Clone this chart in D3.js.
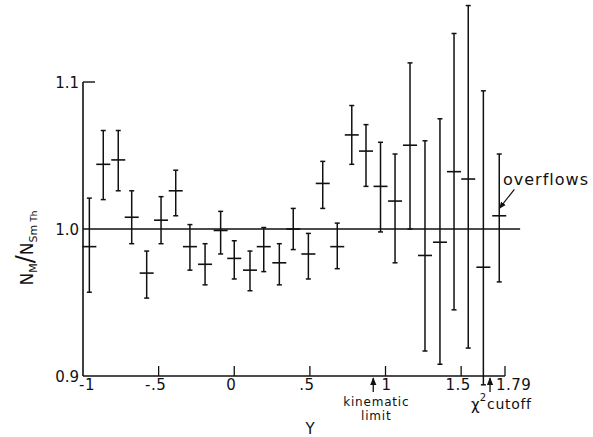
<html>
<head>
  <script src="https://d3js.org/d3.v7.min.js"></script>
  <style>
    body { margin: 0; background: #fff; }
    text { font-family: "DejaVu Sans", sans-serif; fill: #111; }
  </style>
</head>
<body>
<script>
// bin centres in Y (rapidity) and the ratio N_M / N_Sm Th with its error bar
var binY = [-0.958, -0.866, -0.767, -0.678, -0.579, -0.484, -0.387, -0.293, -0.193, -0.090,
            0.000, 0.104, 0.195, 0.298, 0.390, 0.490, 0.585, 0.681, 0.777, 0.871,
            0.967, 1.063, 1.162, 1.261, 1.360, 1.453, 1.547, 1.647, 1.752];
var ratio = [0.988, 1.044, 1.047, 1.008, 0.970, 1.006, 1.026, 0.988, 0.976, 0.999,
             0.980, 0.972, 0.988, 0.977, 1.000, 0.983, 1.031, 0.988, 1.064, 1.053,
             1.029, 1.019, 1.057, 0.982, 0.991, 1.039, 1.034, 0.974, 1.009];
var errHi = [1.021, 1.067, 1.067, 1.026, 0.985, 1.022, 1.040, 1.003, 0.990, 1.012,
             0.992, 0.985, 1.001, 0.990, 1.014, 0.997, 1.046, 1.004, 1.084, 1.071,
             1.059, 1.051, 1.113, 1.060, 1.075, 1.133, 1.152, 1.094, 1.051];
var errLo = [0.957, 1.020, 1.026, 0.990, 0.953, 0.990, 1.009, 0.972, 0.962, 0.983,
             0.966, 0.958, 0.971, 0.962, 0.986, 0.966, 1.014, 0.973, 1.044, 1.029,
             0.998, 0.977, 1.000, 0.917, 0.908, 0.945, 0.919, 0.894, 0.964];

var xTicks = [-1, -0.5, 0, 0.5, 1, 1.5, 1.79];
var xTickLabels = ["-1", "-.5", "0", ".5", "1", "1.5", "1.79"];
var yTicks = [0.9, 1.0, 1.1];
var yTickLabels = ["0.9", "1.0", "1.1"];

var refValue = 1.0, refLineEnd = 1.89;
var kinematicLimit = 0.919, chi2Cutoff = 1.691;
var overflowArrow = [[1.852, 1.027], [1.753, 1.014]];

var W = 593, H = 437;
var svg = d3.select("body").append("svg").attr("width", W).attr("height", H);

var x = d3.scaleLinear().domain([-1, 1.79]).range([83, 505]);
var y = d3.scaleLinear().domain([0.9, 1.1]).range([376, 82]);

svg.append("defs").append("marker")
    .attr("id", "ah").attr("viewBox", "0 0 10 10")
    .attr("refX", 9).attr("refY", 5)
    .attr("markerWidth", 6).attr("markerHeight", 6)
    .attr("orient", "auto")
  .append("path").attr("d", "M0,1L10,5L0,9z").attr("fill", "#111");

var ink = "#111";

// axes
svg.append("line").attr("x1", x(-1)).attr("x2", x(-1)).attr("y1", y(1.1)).attr("y2", y(0.9))
    .attr("stroke", ink).attr("stroke-width", 1.6);
svg.append("line").attr("x1", x(-1)).attr("x2", x(1.79)).attr("y1", y(0.9)).attr("y2", y(0.9))
    .attr("stroke", ink).attr("stroke-width", 1.6);
svg.append("line").attr("x1", x(-1)).attr("x2", x(-1) + 12).attr("y1", y(1.1)).attr("y2", y(1.1))
    .attr("stroke", ink).attr("stroke-width", 1.4);

// x ticks point up into the plot
svg.selectAll(".xt").data(xTicks.slice(1)).enter().append("line")
    .attr("x1", d => x(d)).attr("x2", d => x(d))
    .attr("y1", y(0.9)).attr("y2", y(0.9) - 10)
    .attr("stroke", ink).attr("stroke-width", 1.3);

svg.selectAll(".xl").data(xTicks).enter().append("text")
    .attr("x", (d, i) => i === 0 ? x(d) + 4 : (i === 4 ? x(d) + 1 : (i === 6 ? x(d) - 9 : x(d) - 3)))
    .attr("y", 390)
    .attr("text-anchor", (d, i) => i === 6 ? "start" : "middle")
    .style("font-size", "15px")
    .style("letter-spacing", "0.5px")
    .text((d, i) => xTickLabels[i]);

svg.selectAll(".yl").data(yTicks).enter().append("text")
    .attr("x", 79).attr("y", d => y(d) + 6)
    .attr("text-anchor", "end")
    .style("font-size", "15px")
    .text((d, i) => yTickLabels[i]);

// reference line at 1.0
svg.append("line").attr("x1", x(-1)).attr("x2", x(refLineEnd))
    .attr("y1", y(refValue)).attr("y2", y(refValue))
    .attr("stroke", ink).attr("stroke-width", 1.6);

// error bars
var pts = binY.map((b, i) => ({b: b, v: ratio[i], hi: errHi[i], lo: errLo[i]}));
var g = svg.append("g").attr("stroke", ink);
g.selectAll(".eb").data(pts).enter().append("line")
    .attr("x1", d => x(d.b)).attr("x2", d => x(d.b))
    .attr("y1", d => y(d.hi)).attr("y2", d => y(d.lo))
    .attr("stroke-width", 1.5);
g.selectAll(".cap1").data(pts).enter().append("line")
    .attr("x1", d => x(d.b) - 2.5).attr("x2", d => x(d.b) + 2.5)
    .attr("y1", d => y(d.hi)).attr("y2", d => y(d.hi))
    .attr("stroke-width", 1.5);
g.selectAll(".cap2").data(pts).enter().append("line")
    .attr("x1", d => x(d.b) - 2.5).attr("x2", d => x(d.b) + 2.5)
    .attr("y1", d => y(d.lo)).attr("y2", d => y(d.lo))
    .attr("stroke-width", 1.5);
g.selectAll(".mid").data(pts).enter().append("line")
    .attr("x1", d => x(d.b) - 7).attr("x2", d => x(d.b) + 7)
    .attr("y1", d => y(d.v)).attr("y2", d => y(d.v))
    .attr("stroke-width", 1.6);

// annotation arrows under the axis
[kinematicLimit, chi2Cutoff].forEach(function (k) {
  svg.append("line").attr("x1", x(k)).attr("x2", x(k))
      .attr("y1", 392).attr("y2", 378)
      .attr("stroke", ink).attr("stroke-width", 1.3)
      .attr("marker-end", "url(#ah)");
});

svg.append("text").attr("x", x(kinematicLimit) + 3).attr("y", 406)
    .attr("text-anchor", "middle").style("font-size", "12px").style("letter-spacing", "0.8px")
    .text("kinematic");
svg.append("text").attr("x", x(kinematicLimit) + 3).attr("y", 420)
    .attr("text-anchor", "middle").style("font-size", "12px").style("letter-spacing", "0.8px")
    .text("limit");

var chi = svg.append("text").attr("x", 471).attr("y", 410).style("font-size", "15px");
chi.append("tspan").text("χ");
chi.append("tspan").attr("dy", -9).style("font-size", "10px").text("2");
chi.append("tspan").attr("dy", 8).attr("dx", 1).style("font-size", "14px")
    .style("letter-spacing", "0.7px").text("cutoff");

// overflows note
svg.append("text").attr("x", 503).attr("y", 185)
    .style("font-size", "16px").style("letter-spacing", "1px").text("overflows");
svg.append("line")
    .attr("x1", x(overflowArrow[0][0])).attr("y1", y(overflowArrow[0][1]))
    .attr("x2", x(overflowArrow[1][0])).attr("y2", y(overflowArrow[1][1]))
    .attr("stroke", ink).attr("stroke-width", 1.2)
    .attr("marker-end", "url(#ah)");

// axis titles
svg.append("text").attr("x", 310).attr("y", 434).attr("text-anchor", "middle")
    .style("font-size", "15px").text("Y");

var yl = svg.append("text")
    .attr("transform", "translate(33,248) rotate(-90)")
    .attr("text-anchor", "middle")
    .style("font-size", "17px");
yl.append("tspan").text("N");
yl.append("tspan").attr("dy", 4).style("font-size", "11px").text("M");
yl.append("tspan").attr("dy", -4).style("font-size", "24px").text("/");
yl.append("tspan").text("N");
yl.append("tspan").attr("dy", 4).style("font-size", "11px").text("Sm");
yl.append("tspan").attr("dx", 3).style("font-size", "9px").text("Th");
</script>
</body>
</html>
